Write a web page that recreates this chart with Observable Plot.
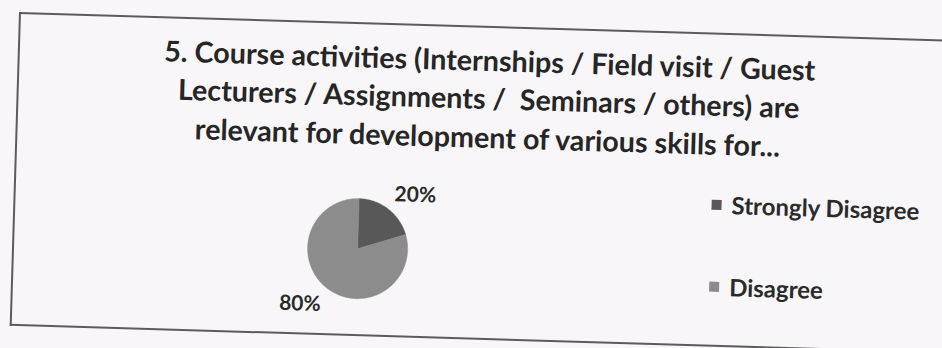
<!DOCTYPE html>
<html>
<head>
<meta charset="utf-8">
<script src="https://cdn.jsdelivr.net/npm/d3@7"></script>
<script src="https://cdn.jsdelivr.net/npm/@observablehq/plot@0.6"></script>
<style>
  html, body { margin: 0; padding: 0; background: #f8f6f9; width: 942px; height: 348px; overflow: hidden; }
  #frame {
    position: absolute; left: 19px; top: 12px; width: 1000px; height: 314px;
    box-sizing: border-box; border: 2px solid #5c5c5c; border-right: none;
    transform: rotate(1.7deg); transform-origin: 0 0;
    font-family: Lato, "Open Sans", sans-serif; color: #262626;
  }
  #title {
    position: absolute; left: 0; top: 13px; width: 940px; text-align: center;
    font-weight: 700; font-size: 28.7px; line-height: 38.3px; white-space: pre;
  }
  #chart { position: absolute; left: 0; top: 148px; }
  #legend { position: absolute; left: 696px; top: 155px; width: 230px; }
  .lg-swatches { font-family: Lato, "Open Sans", sans-serif !important; font-size: 24px !important; font-weight: 700; color: #2a2a2a !important; margin: 0 !important; }
  .lg-swatches-columns .lg-swatch { line-height: 30px !important; height: 30px; padding-bottom: 52px !important; }
  .lg-swatches-columns .lg-swatch svg { margin-right: 10px !important; }
  .lg-swatches-columns .lg-label { overflow: visible !important; text-overflow: clip !important; }
</style>
</head>
<body>
<div id="frame">
  <div id="title"></div>
  <div id="chart"></div>
  <div id="legend"></div>
</div>
<script>
// ---- data ----
const titleLines = [
  "5. Course activities (Internships / Field visit / Guest",
  "Lecturers / Assignments /  Seminars / others) are",
  "relevant for development of various skills for..."
];
const categories = ["Strongly Disagree", "Disagree"];
const shares = [20, 80];
const shareLabels = ["20%", "80%"];
const sliceColors = ["#585858", "#8c8c8c"];

// ---- layout ----
const W = 940, H = 162, cx = 343, cy = 76, R = 50;

document.getElementById("title").textContent = titleLines.join("\n");

const arcs = d3.pie().sort(null).value(d => d)(shares);
const slicePts = [];
arcs.forEach((a, i) => {
  const n = Math.max(2, Math.ceil((a.endAngle - a.startAngle) / (Math.PI / 180)));
  slicePts.push({category: categories[i], x: 0, y: 0});
  for (let k = 0; k <= n; k++) {
    const t = a.startAngle + (a.endAngle - a.startAngle) * k / n;
    slicePts.push({category: categories[i], x: Math.sin(t), y: Math.cos(t)});
  }
  slicePts.push({category: categories[i], x: 0, y: 0});
});
const labelPts = arcs.map((a, i) => {
  const m = (a.startAngle + a.endAngle) / 2;
  return {x: 1.2 * Math.sin(m), y: 1.2 * Math.cos(m), label: shareLabels[i]};
});

const textStyle = {fontSize: 21, fontWeight: 700, fill: "#2a2a2a", fontFamily: "Lato, 'Open Sans', sans-serif"};

const chart = Plot.plot({
  width: W, height: H, margin: 0,
  x: {domain: [-1, 1], range: [cx - R, cx + R], axis: null},
  y: {domain: [-1, 1], range: [cy + R, cy - R], axis: null},
  color: {domain: categories, range: sliceColors},
  style: {background: "transparent", overflow: "visible"},
  marks: [
    Plot.line(slicePts, {x: "x", y: "y", z: "category", fill: "category", stroke: "category", strokeWidth: 0.5}),
    Plot.text(labelPts.filter(d => d.x >= 0), {x: "x", y: "y", text: "label", textAnchor: "start", lineAnchor: "bottom", ...textStyle}),
    Plot.text(labelPts.filter(d => d.x < 0), {x: "x", y: "y", text: "label", textAnchor: "end", lineAnchor: "top", ...textStyle})
  ]
});
document.getElementById("chart").appendChild(chart);

const legend = chart.legend("color", {className: "lg", columns: 1, swatchSize: 10});
document.getElementById("legend").appendChild(legend);
</script>
</body>
</html>
